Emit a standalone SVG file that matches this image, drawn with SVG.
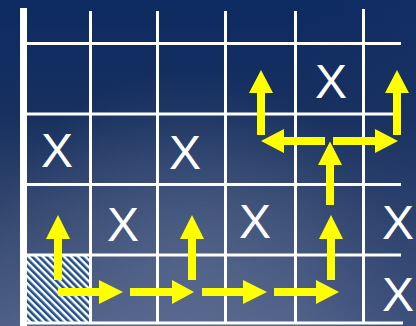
<svg xmlns="http://www.w3.org/2000/svg" width="416" height="326" viewBox="0 0 416 326">
  <defs>
    <linearGradient id="bg" x1="0" y1="0" x2="0" y2="1">
      <stop offset="0" stop-color="#0d2a62"/>
      <stop offset="0.35" stop-color="#17305f"/>
      <stop offset="0.65" stop-color="#33476f"/>
      <stop offset="1" stop-color="#4f5f86"/>
    </linearGradient>
    <radialGradient id="glow" cx="190" cy="270" r="200" gradientUnits="userSpaceOnUse">
      <stop offset="0" stop-color="#6a7a9e" stop-opacity="0.45"/>
      <stop offset="1" stop-color="#6a7a9e" stop-opacity="0"/>
    </radialGradient>
    <linearGradient id="rightShade" x1="0" y1="0" x2="1" y2="0">
      <stop offset="0.7" stop-color="#1c3568" stop-opacity="0"/>
      <stop offset="1" stop-color="#1c3568" stop-opacity="0.35"/>
    </linearGradient>
    <pattern id="hatch" patternUnits="userSpaceOnUse" width="5" height="5" patternTransform="rotate(-45)">
      <rect x="0" y="0" width="5" height="5" fill="#ffffff"/>
      <rect x="0" y="0" width="2.6" height="5" fill="#1f4e8a"/>
    </pattern>
    <style>
      .grid { stroke: #ffffff; stroke-width: 3; fill: none; }
      .arrow { fill: #ffff00; }
      .x { font-family: "Liberation Sans", Arial, sans-serif; font-size: 48px; fill: #ffffff; text-anchor: middle; }
    </style>
  </defs>

  <rect x="0" y="0" width="416" height="326" fill="url(#bg)"/>
  <rect x="0" y="0" width="416" height="326" fill="url(#glow)"/>
  <rect x="0" y="0" width="416" height="326" fill="url(#rightShade)"/>

  <g id="start-cell">
    <rect x="27" y="256" width="62" height="66" fill="url(#hatch)"/>
  </g>

  <g id="grid">
    <rect x="20" y="8" width="7" height="318" fill="#ffffff"/>
    <line class="grid" x1="90.5" y1="11" x2="90.5" y2="323"/>
    <line class="grid" x1="157.5" y1="11" x2="157.5" y2="323"/>
    <line class="grid" x1="225.5" y1="11" x2="225.5" y2="323"/>
    <line class="grid" x1="295.5" y1="11" x2="295.5" y2="323"/>
    <line class="grid" x1="363.5" y1="9" x2="363.5" y2="323"/>
    <line class="grid" x1="27" y1="43.5" x2="401" y2="43.5"/>
    <line class="grid" x1="27" y1="114" x2="401" y2="114"/>
    <line class="grid" x1="27" y1="184.5" x2="401" y2="184.5"/>
    <line class="grid" x1="27" y1="255" x2="401" y2="255"/>
    <line class="grid" x1="27" y1="323" x2="403" y2="323"/>
  </g>

  <g id="x1"><text class="x" x="57" y="167">X</text></g>
  <g id="x2"><text class="x" x="185" y="169">X</text></g>
  <g id="x3"><text class="x" x="331" y="98">X</text></g>
  <g id="x4"><text class="x" x="123" y="241">X</text></g>
  <g id="x5"><text class="x" x="255" y="238">X</text></g>
  <g id="x6"><text class="x" x="398" y="239">X</text></g>
  <g id="x7"><text class="x" x="398" y="311">X</text></g>

  <g id="connectors" class="arrow">
    <!-- up arrows -->
    <polygon points="54,280 54,239 46,239 58,215 70,239 62,239 62,280"/>
    <polygon points="188,280 188,239 180,239 192,215 204,239 196,239 196,280"/>
    <polygon points="327,280 327,239 319,239 331,215 343,239 335,239 335,280"/>
    <polygon points="326,205 326,165 318,165 330,141.5 342,165 334,165 334,205"/>
    <polygon points="257,135 257,93 249,93 261,70 273,93 265,93 265,135"/>
    <polygon points="393,135 393,93 385,93 397,70 409,93 401,93 401,135"/>
    <!-- right arrows -->
    <polygon points="58,288 99,288 99,280 123,292 99,304 99,296 58,296"/>
    <polygon points="130,288 172,288 172,280 194,292 172,304 172,296 130,296"/>
    <polygon points="202,288 243,288 243,280 267,292 243,304 243,296 202,296"/>
    <polygon points="274,288 316,288 316,280 339,292 316,304 316,296 274,296"/>
    <polygon points="333,137 375,137 375,129 398,141 375,153 375,145 333,145"/>
    <!-- left arrow -->
    <polygon points="325,137 284,137 284,129 261,141 284,153 284,145 325,145"/>
  </g>
</svg>
